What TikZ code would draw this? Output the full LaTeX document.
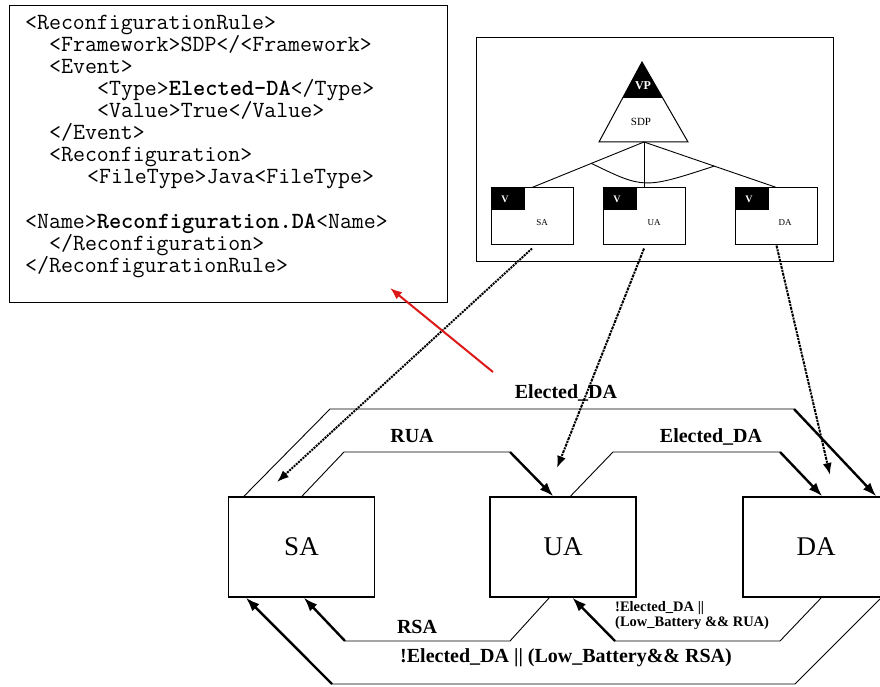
\documentclass[tikz,border=0pt]{standalone}
\usepackage{fontspec}
\setmainfont{Liberation Serif}
\usetikzlibrary{arrows.meta,calc}
\begin{document}
\begin{tikzpicture}[x=1pt,y=-1pt,
  code/.style={anchor=base west, inner sep=0pt, font=\fontsize{23.2}{24}\selectfont\ttfamily},
  bigstate/.style={draw, line width=1.3pt, minimum width=146pt, minimum height=100pt, inner sep=0pt, font=\fontsize{27}{30}\selectfont},
  feat/.style={draw, line width=1pt, minimum width=82pt, minimum height=56pt, inner sep=0pt},
  thinline/.style={line width=0.9pt},
  trans/.style={line width=2.4pt, -{Latex[length=14pt,width=10pt]}},
  trlabel/.style={font=\fontsize{20}{22}\selectfont\bfseries, inner sep=0pt},
  smlabel/.style={font=\fontsize{14.5}{15}\selectfont\bfseries, inner sep=0pt, anchor=west},
  link/.style={line width=2pt, -{Latex[length=12pt,width=9pt]}},
  tag/.style={text=white, font=\fontsize{10}{10}\selectfont\bfseries, inner sep=0pt},
  flabel/.style={font=\fontsize{9}{9}\selectfont, inner sep=0pt},
]
\useasboundingbox (0,0) rectangle (880,687);
\clip (0,0) rectangle (880,687);
\fill[white] (0,0) rectangle (880,687);

% ---- XML rule box ----
\node[draw, line width=1.3pt, minimum width=438pt, minimum height=296.7pt, inner sep=0pt, anchor=north west] (rule) at (9,5) {};
\node[code] (l1) at (25,30) {<ReconfigurationRule>};
\node[code] (l2) at (49,52) {<Framework>SDP</<Framework>};
\node[code] (l3) at (49,74) {<Event>};
\node[code] (l4) at (97,96) {<Type>\textbf{Elected-DA}</Type>};
\node[code] (l5) at (97,118) {<Value>True</Value>};
\node[code] (l6) at (49,140) {</Event>};
\node[code] (l7) at (49,162) {<Reconfiguration>};
\node[code] (l8) at (87,184) {<FileType>Java<FileType>};
\node[code] (l9) at (25,228) {<Name>\textbf{Reconfiguration.DA}<Name>};
\node[code] (l10) at (49,250) {</Reconfiguration>};
\node[code] (l11) at (25,272) {</ReconfigurationRule>};

% ---- feature model box ----
\node[draw, line width=1.3pt, minimum width=357pt, minimum height=224pt, inner sep=0pt, anchor=north west] (fw) at (476,37) {};
\coordinate (apex) at (642,62);
\coordinate (bl) at (599,142);
\coordinate (br) at (688,142);
\coordinate (sdpb) at (644,142);
\fill (apex) -- (622.6,98) -- (662.7,98) -- cycle;
\draw[line width=1pt, line join=miter] (apex) -- (bl) -- (br) -- cycle;
\node[font=\fontsize{12}{12}\selectfont\bfseries, text=white, inner sep=0pt] (vp) at (643,86) {VP};
\node[font=\fontsize{11}{11}\selectfont, inner sep=0pt] (sdp) at (641,122) {SDP};

\node[feat] (fSA) at (532,216) {};
\node[feat] (fUA) at (644,216) {};
\node[feat] (fDA) at (776.5,216) {};
\foreach \f in {fSA,fUA,fDA} {\fill (\f.north west) rectangle ++(34,22);}
\node[tag] at (505,199) {V};
\node[tag] at (617,199) {V};
\node[tag] at (749,199) {V};
\node[flabel] at (542,223) {SA};
\node[flabel] at (654,223) {UA};
\node[flabel] at (785,223) {DA};

\draw[line width=0.9pt] (sdpb) -- (fSA.north);
\draw[line width=0.9pt] (sdpb) -- (sdpb |- fUA.north);
\draw[line width=0.9pt] (sdpb) -- (fDA.north);
\draw[line width=0.9pt] ($(sdpb)!0.47!(fSA.north)$) .. controls ($(sdpb)+(0,47)$) .. ($(sdpb)!0.53!(fDA.north)$);

% ---- state machine ----
\node[bigstate] (SA) at (301.5,547) {SA};
\node[bigstate] (UA) at (563,547) {UA};
\node[bigstate] (DA) at (816,547) {DA};

% outer top: SA -> DA
\coordinate (ot1) at (330,409);
\coordinate (ot2) at (794,409);
\draw[thinline] ([xshift=16pt]SA.north west) -- (ot1) -- (ot2);
\draw[trans] (ot2) -- ([xshift=134pt]DA.north west);
% inner top: SA -> UA (RUA)
\coordinate (it1) at (344,452);
\coordinate (it2) at (510,452);
\draw[thinline] ([xshift=74pt]SA.north west) -- (it1) -- (it2);
\draw[trans] (it2) -- ([xshift=64pt]UA.north west);
% inner top: UA -> DA
\coordinate (iu1) at (613,452);
\coordinate (iu2) at (780,452);
\draw[thinline] ([xshift=81pt]UA.north west) -- (iu1) -- (iu2);
\draw[trans] (iu2) -- ([xshift=80pt]DA.north west);
% inner bottom: UA -> SA (RSA)
\coordinate (ib1) at (510,641);
\coordinate (ib2) at (345,641);
\draw[thinline] ([xshift=60pt]UA.south west) -- (ib1) -- (ib2);
\draw[trans] (ib2) -- ([xshift=76pt]SA.south west);
% inner bottom: DA -> UA
\coordinate (id1) at (780,641);
\coordinate (id2) at (615,641);
\draw[thinline] ([xshift=79pt]DA.south west) -- (id1) -- (id2);
\draw[trans] (id2) -- ([xshift=83pt]UA.south west);
% outer bottom: DA -> SA
\coordinate (ob1) at (795,684);
\coordinate (ob2) at (332,684);
\draw[thinline] ([xshift=139pt]DA.south west) -- (ob1) -- (ob2);
\draw[trans] (ob2) -- ([xshift=18pt]SA.south west);

% labels
\node[trlabel] (lbOut) at (566,393) {Elected\_DA};
\node[trlabel] (lbRUA) at (412,436) {RUA};
\node[trlabel] (lbED) at (711,437) {Elected\_DA};
\node[trlabel] (lbRSA) at (417,627) {RSA};
\node[smlabel] (lbA) at (615,608) {!Elected\_DA ||};
\node[smlabel] (lbB) at (615,623) {(Low\_Battery \&\& RUA)};
\node[trlabel] (lbBot) at (566,658) {!Elected\_DA || (Low\_Battery\&\& RSA)};

% dotted realization links
\coordinate (tSA) at (277,482);
\coordinate (tUA) at (557,468);
\coordinate (tDA) at (830,475);
\draw[link, densely dotted] ([yshift=-4pt]fSA.south) -- (tSA);
\draw[link, densely dash dot] ([yshift=-4pt]fUA.south) -- (tUA);
\draw[link, densely dash dot] ([yshift=-1pt]fDA.south) -- (tDA);

% red arrow
\coordinate (rs) at (493,372);
\coordinate (re) at (390,288);
\draw[line width=2pt, color={rgb,255:red,220;green,25;blue,25}, -{Latex[length=12pt,width=9pt]}] (rs) -- (re);
\end{tikzpicture}
\end{document}
